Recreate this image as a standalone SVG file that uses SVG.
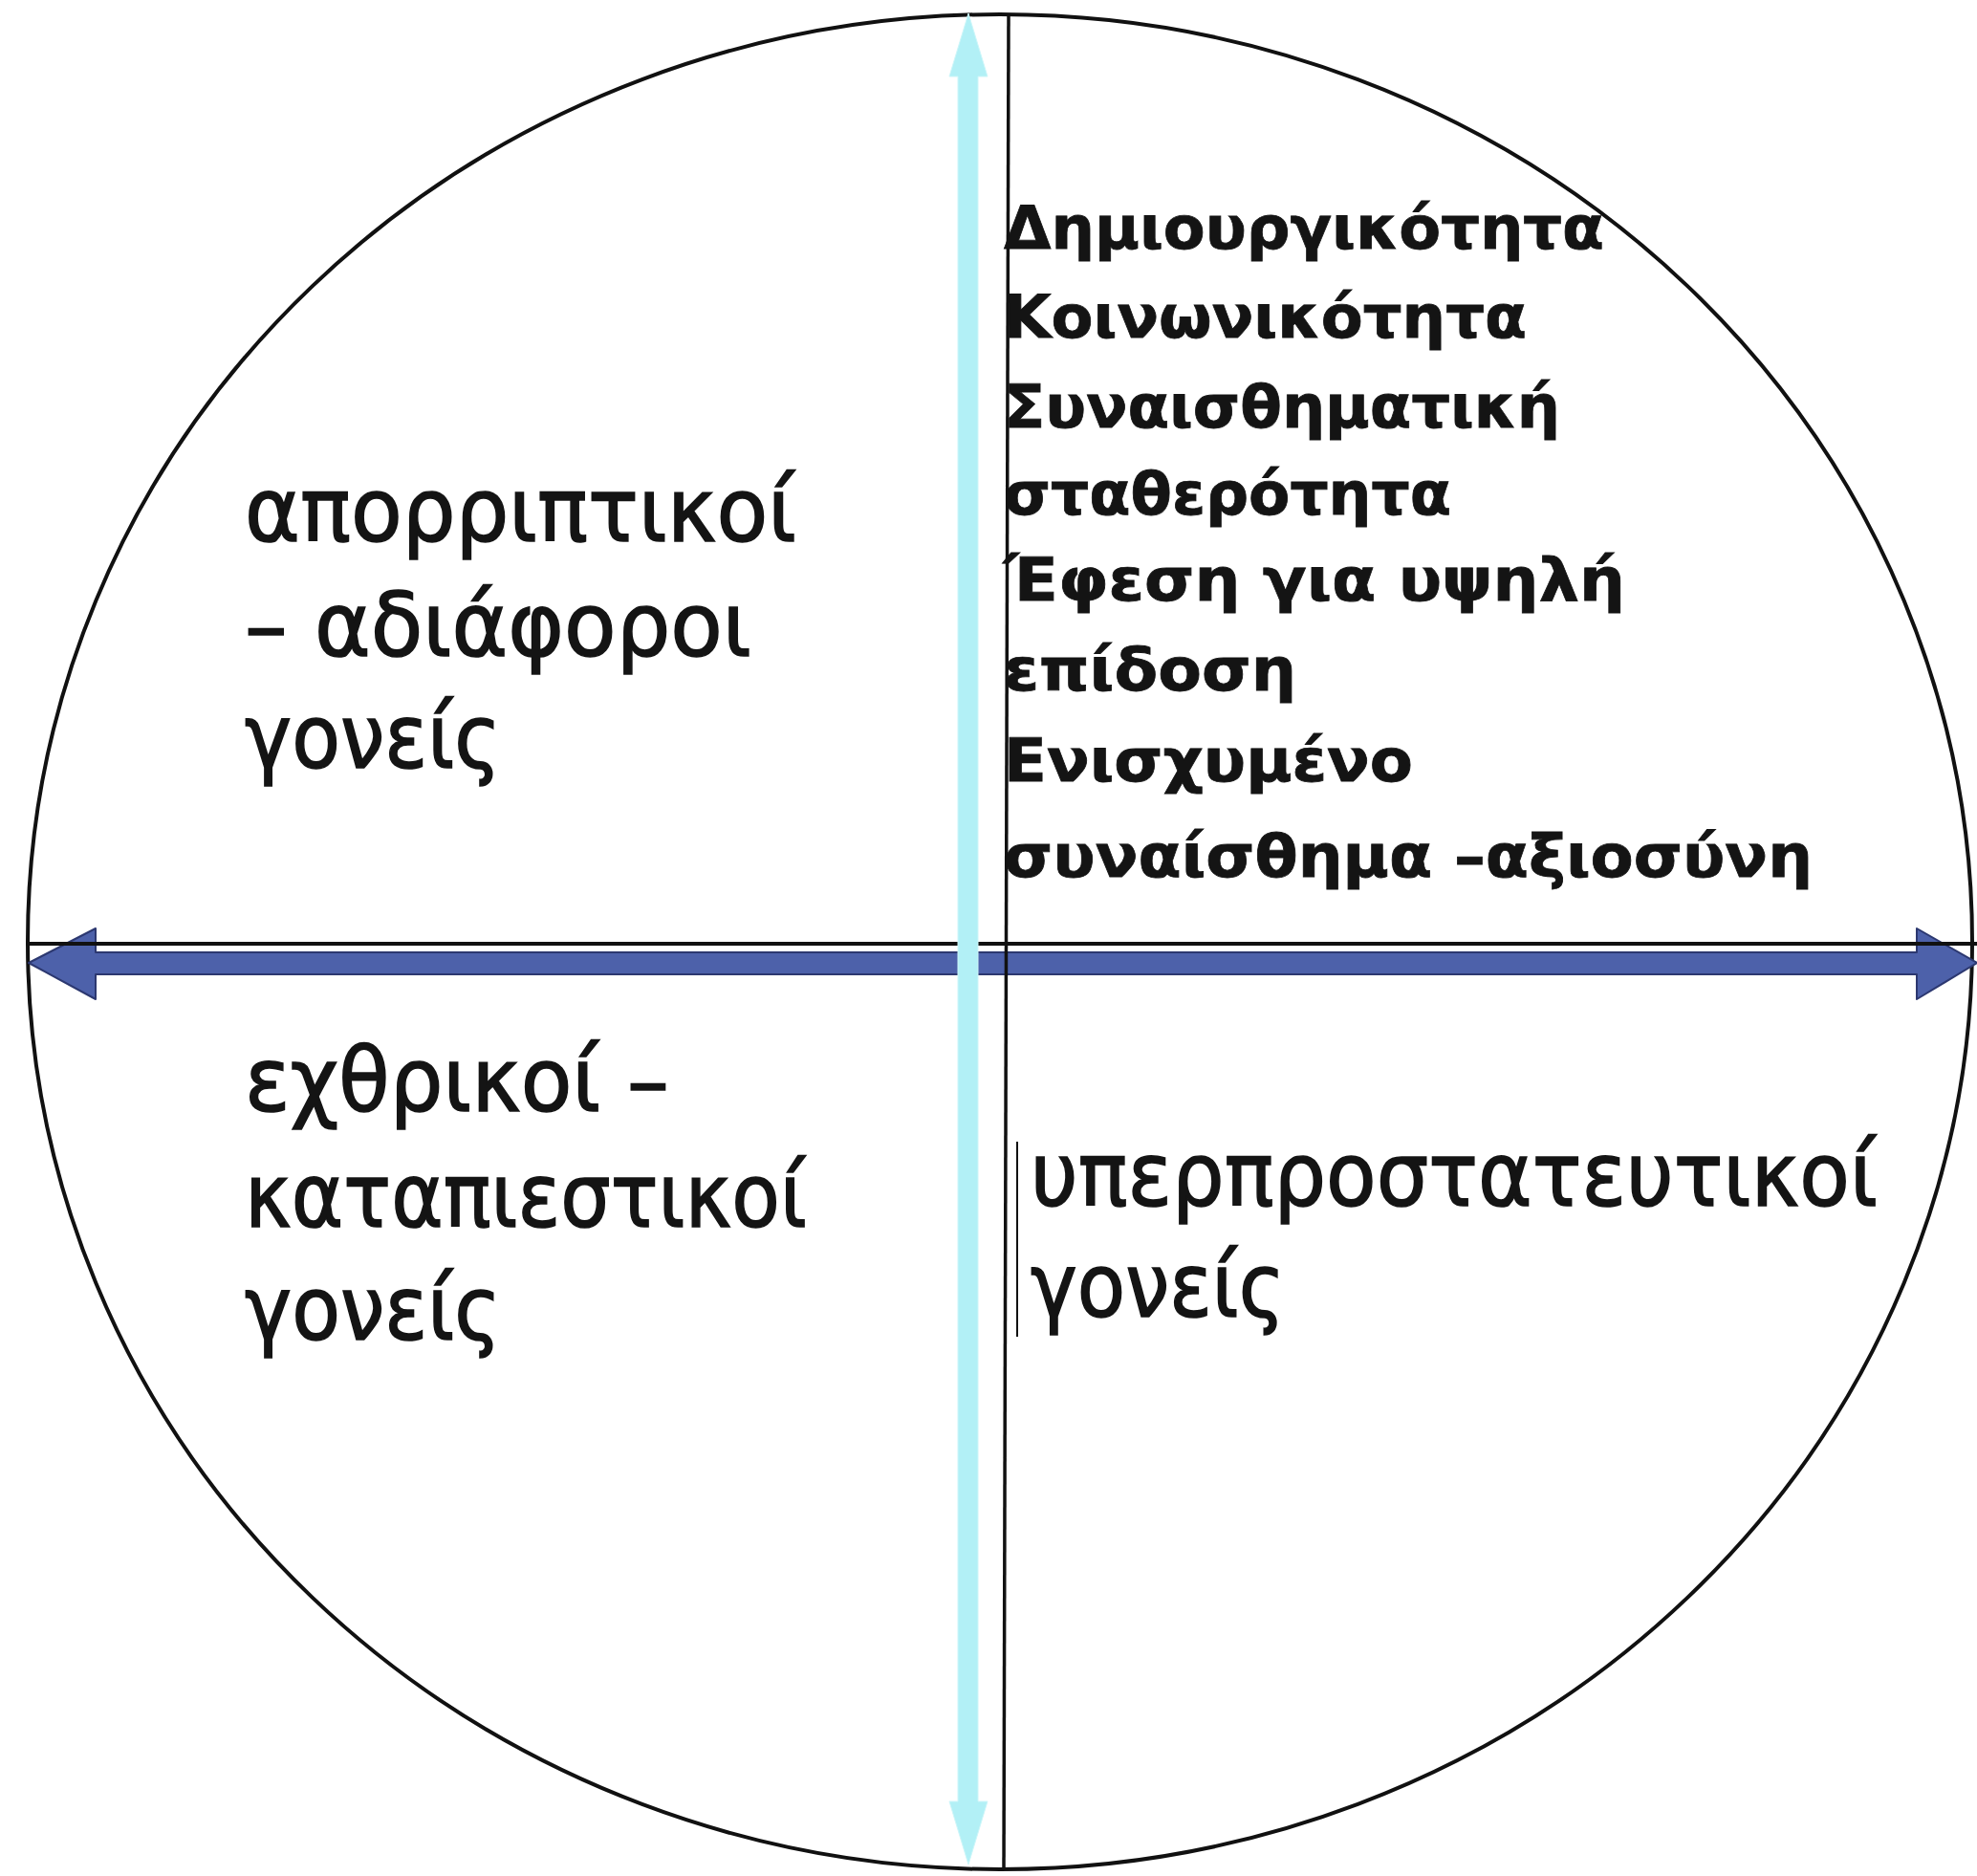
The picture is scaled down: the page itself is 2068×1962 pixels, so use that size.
<svg xmlns="http://www.w3.org/2000/svg" width="2068" height="1962" viewBox="0 0 2068 1962">
  <style>
    .big { font-family: "DejaVu Sans", "Liberation Sans", sans-serif; font-size: 93px; fill: #141414; stroke: #141414; stroke-width: 1.6px; }
    .lst { font-family: "DejaVu Sans", "Liberation Sans", sans-serif; font-size: 62px; font-weight: bold; fill: #141414; stroke: #141414; stroke-width: 0.8px; }
    .ln { stroke: #111; fill: none; }
  </style>
  <rect x="0" y="0" width="2068" height="1962" fill="#ffffff"/>
  <g id="circle">
    <ellipse cx="1046" cy="985" rx="1017" ry="970" fill="none" stroke="#111" stroke-width="4"/>
  </g>
  <g id="connectors">
    <path id="blue-arrow" d="M30,1007 L100,971 L100,996 L2005,996 L2005,971 L2068,1007 L2005,1045 L2005,1019 L100,1019 L100,1045 Z" fill="#4d61aa" stroke="#2c3870" stroke-width="2" stroke-linejoin="round"/>
    <line id="h-line" class="ln" x1="27" y1="987" x2="2068" y2="987" stroke-width="4"/>
    <path id="cyan-arrow" d="M1013,14 L1033,80 L1023,80 L1023,1884 L1033,1884 L1013,1950 L993,1884 L1002,1884 L1002,80 L993,80 Z" fill="#b2f0f6" stroke="#cdf6f9" stroke-width="1"/>
    <line id="v-line" class="ln" x1="1055" y1="15" x2="1050" y2="1954" stroke-width="3.5"/>
    <line id="v-tick" class="ln" x1="1064" y1="1194" x2="1064" y2="1398" stroke-width="2"/>
  </g>
  <g id="q-top-left">
    <text class="big" x="256" y="566" textLength="577" lengthAdjust="spacingAndGlyphs">απορριπτικοί</text>
    <text class="big" x="256" y="686" textLength="530" lengthAdjust="spacingAndGlyphs">– αδιάφοροι</text>
    <text class="big" x="256" y="803" textLength="268" lengthAdjust="spacingAndGlyphs">γονείς</text>
  </g>
  <g id="q-top-right">
    <text class="lst" x="1050" y="260" textLength="628" lengthAdjust="spacingAndGlyphs">Δημιουργικότητα</text>
    <text class="lst" x="1050" y="353" textLength="547" lengthAdjust="spacingAndGlyphs">Κοινωνικότητα</text>
    <text class="lst" x="1050" y="447" textLength="582" lengthAdjust="spacingAndGlyphs">Συναισθηματική</text>
    <text class="lst" x="1050" y="538" textLength="468" lengthAdjust="spacingAndGlyphs">σταθερότητα</text>
    <text class="lst" x="1050" y="628" textLength="650" lengthAdjust="spacingAndGlyphs">Έφεση για υψηλή</text>
    <text class="lst" x="1050" y="722" textLength="306" lengthAdjust="spacingAndGlyphs">επίδοση</text>
    <text class="lst" x="1050" y="817" textLength="428" lengthAdjust="spacingAndGlyphs">Ενισχυμένο</text>
    <text class="lst" x="1050" y="917" textLength="846" lengthAdjust="spacingAndGlyphs">συναίσθημα –αξιοσύνη</text>
  </g>
  <g id="q-bottom-left">
    <text class="big" x="256" y="1162" textLength="444" lengthAdjust="spacingAndGlyphs">εχθρικοί –</text>
    <text class="big" x="256" y="1283" textLength="588" lengthAdjust="spacingAndGlyphs">καταπιεστικοί</text>
    <text class="big" x="256" y="1401" textLength="268" lengthAdjust="spacingAndGlyphs">γονείς</text>
  </g>
  <g id="q-bottom-right">
    <text class="big" x="1078" y="1261" textLength="886" lengthAdjust="spacingAndGlyphs">υπερπροστατευτικοί</text>
    <text class="big" x="1078" y="1377" textLength="266" lengthAdjust="spacingAndGlyphs">γονείς</text>
  </g>
</svg>
